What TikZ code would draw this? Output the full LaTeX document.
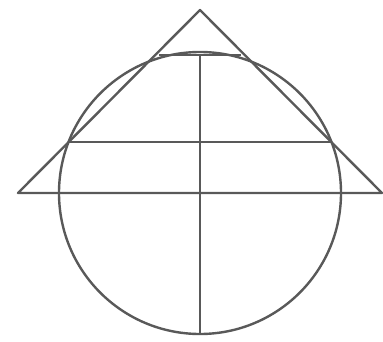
\documentclass[tikz,border=0pt]{standalone}
\usepackage{tikz}
\usetikzlibrary{calc}

\begin{document}
\begin{tikzpicture}[x=1pt,y=1pt,line width=2.4pt,draw=black!65]
\useasboundingbox (0,0) rectangle (383,341);
\coordinate (apex) at (200,331);
\coordinate (baseL) at (18,148);
\coordinate (baseR) at (382,148);
\coordinate (ctr) at (200,148);
\coordinate (topL) at (159,286);
\coordinate (topR) at (241,286);
\coordinate (midL) at (69,199);
\coordinate (midR) at (331,199);
\coordinate (top) at (200,286);
\coordinate (bot) at (200,6);
\draw[line join=round] (baseL) -- (apex) -- (baseR) -- cycle;
\draw (ctr) circle (141);
\draw (topL) -- (topR);
\draw (midL) -- (midR);
\draw (top) -- (bot);
\end{tikzpicture}
\end{document}
